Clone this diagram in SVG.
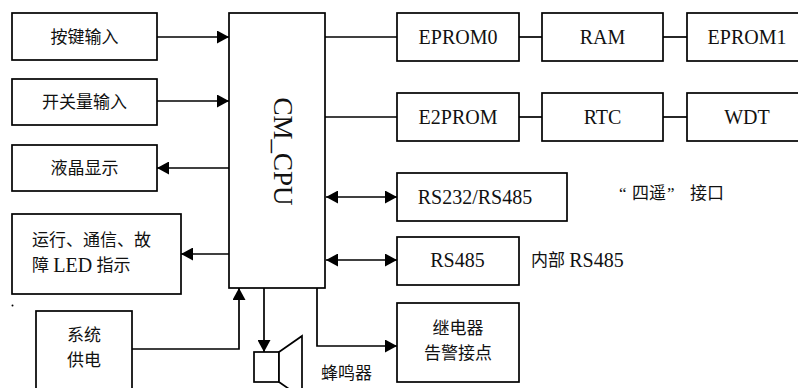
<svg xmlns="http://www.w3.org/2000/svg" width="798" height="388" viewBox="0 0 798 388">
<defs>
<style>
.box{fill:#fff;stroke:#000;stroke-width:1.7}
.ln{fill:none;stroke:#000;stroke-width:1.7}
.ar{marker-end:url(#ah)}
.dar{marker-start:url(#ah);marker-end:url(#ah)}
text{font-family:"Liberation Serif","Noto Sans CJK SC",serif;fill:#111;dominant-baseline:central}
.en{font-size:20px}
.zh{font-size:17px}
.mid{text-anchor:middle}
</style>
<marker id="ah" markerUnits="userSpaceOnUse" markerWidth="13" markerHeight="13" refX="12" refY="6.5" orient="auto-start-reverse" viewBox="0 0 13 13">
<path d="M0,0 L12,6.5 L0,13 z" fill="#000"/>
</marker>
</defs>
<rect width="798" height="388" fill="#fff"/>

<g id="connectors">
<line class="ln ar" x1="157" y1="37" x2="229" y2="37"/>
<line class="ln ar" x1="157" y1="101" x2="229" y2="101"/>
<line class="ln ar" x1="229" y1="168" x2="157" y2="168"/>
<line class="ln ar" x1="229" y1="254" x2="181" y2="254"/>
<polyline class="ln ar" points="132,349 239,349 239,288"/>
<line class="ln ar" x1="264" y1="288" x2="264" y2="352"/>
<polyline class="ln ar" points="317,288 317,346 397,346"/>
<line class="ln" x1="325" y1="37" x2="397" y2="37"/>
<line class="ln" x1="519" y1="37" x2="542" y2="37"/>
<line class="ln" x1="663" y1="37" x2="687" y2="37"/>
<line class="ln" x1="325" y1="117" x2="397" y2="117"/>
<line class="ln" x1="519" y1="117" x2="542" y2="117"/>
<line class="ln" x1="663" y1="117" x2="687" y2="117"/>
<line class="ln dar" x1="326" y1="197" x2="397" y2="197"/>
<line class="ln dar" x1="326" y1="260" x2="397" y2="260"/>
</g>

<g id="cpu">
<rect class="box" x="229" y="13" width="96" height="275"/>
<text class="en" x="283" y="151.5" text-anchor="middle" font-size="27" style="font-size:27px" transform="rotate(90 283 151.5)">CM_CPU</text>
</g>

<g id="key"><rect class="box" x="12" y="13" width="145" height="47"/><text class="zh mid" x="84.5" y="37">按键输入</text></g>
<g id="switch"><rect class="box" x="12" y="79" width="145" height="46"/><text class="zh mid" x="84.5" y="102">开关量输入</text></g>
<g id="lcd"><rect class="box" x="12" y="145" width="145" height="46"/><text class="zh mid" x="84.5" y="168">液晶显示</text></g>
<g id="led"><rect class="box" x="12" y="214" width="169" height="80"/>
<text class="zh" x="32" y="240">运行、通信、故</text>
<text class="zh" x="32" y="265">障 <tspan class="en">LED</tspan> 指示</text>
</g>
<circle cx="12.5" cy="305.5" r="1" fill="#000"/>
<g id="power"><rect class="box" x="36" y="311" width="96" height="90"/>
<text class="zh mid" x="84" y="335">系统</text><text class="zh mid" x="84" y="360">供电</text></g>

<g id="buzzer">
<rect class="box" x="254" y="352" width="25" height="30"/>
<polygon class="box" points="279,352 302,336 302,398 279,382"/>
<text class="zh" x="321" y="373">蜂鸣器</text>
</g>

<g id="relay"><rect class="box" x="397" y="303" width="122" height="79"/>
<text class="zh mid" x="458" y="328">继电器</text><text class="zh mid" x="458" y="353">告警接点</text></g>

<g id="eprom0"><rect class="box" x="397" y="13" width="122" height="48"/><text class="en mid" x="458" y="37">EPROM0</text></g>
<g id="ram"><rect class="box" x="542" y="13" width="121" height="48"/><text class="en mid" x="602.5" y="37">RAM</text></g>
<g id="eprom1"><rect class="box" x="687" y="13" width="130" height="48"/><text class="en mid" x="747" y="37">EPROM1</text></g>
<g id="e2prom"><rect class="box" x="397" y="93" width="122" height="48"/><text class="en mid" x="458" y="117">E2PROM</text></g>
<g id="rtc"><rect class="box" x="542" y="93" width="121" height="48"/><text class="en mid" x="602.5" y="117">RTC</text></g>
<g id="wdt"><rect class="box" x="687" y="93" width="130" height="48"/><text class="en mid" x="747" y="117">WDT</text></g>
<g id="rs232"><rect class="box" x="397" y="173" width="170" height="48"/><text class="en mid" x="475" y="197">RS232/RS485</text></g>
<g id="rs485"><rect class="box" x="397" y="237" width="122" height="48"/><text class="en mid" x="457.5" y="260">RS485</text></g>

<text class="zh" x="619" y="193">“<tspan x="632">四遥</tspan><tspan x="667">”</tspan><tspan x="690">接口</tspan></text>
<text class="zh" x="531" y="260">内部 <tspan class="en">RS485</tspan></text>
</svg>
